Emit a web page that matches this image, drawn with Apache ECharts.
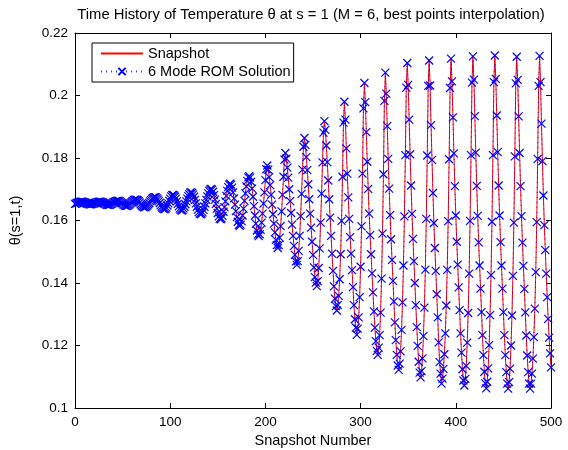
<!DOCTYPE html>
<html>
<head>
<meta charset="utf-8">
<script src="https://cdn.jsdelivr.net/npm/echarts@6/dist/echarts.min.js"></script>
<style>html,body{margin:0;padding:0;background:#fff}#chart{width:568px;height:450px}</style>
</head>
<body>
<div id="chart"></div>
<script>
const titleText = 'Time History of Temperature θ at s = 1 (M = 6, best points interpolation)';
const xAxisName = 'Snapshot Number';
const yAxisName = 'θ(s=1,t)';
const seriesNames = ['Snapshot', '6 Mode ROM Solution'];
const xTickValues = [0, 100, 200, 300, 400, 500];
const yTickValues = [0.1, 0.12, 0.14, 0.16, 0.18, 0.2, 0.22];

// theta(s=1,t) at snapshot numbers 0..500
const snapshotTheta = [
0.1653,0.1654,0.1656,0.1657,0.1658,0.1659,0.1660,0.1660,0.1660,0.1659,
0.1658,0.1657,0.1655,0.1654,0.1653,0.1652,0.1652,0.1652,0.1653,0.1654,
0.1655,0.1656,0.1657,0.1658,0.1659,0.1660,0.1660,0.1660,0.1659,0.1658,
0.1656,0.1654,0.1653,0.1651,0.1650,0.1650,0.1650,0.1651,0.1653,0.1654,
0.1657,0.1659,0.1660,0.1662,0.1663,0.1663,0.1663,0.1661,0.1659,0.1656,
0.1654,0.1651,0.1649,0.1647,0.1647,0.1647,0.1649,0.1651,0.1654,0.1657,
0.1660,0.1663,0.1665,0.1667,0.1667,0.1666,0.1664,0.1661,0.1657,0.1652,
0.1648,0.1645,0.1643,0.1642,0.1643,0.1645,0.1648,0.1652,0.1656,0.1661,
0.1665,0.1669,0.1672,0.1674,0.1675,0.1674,0.1671,0.1667,0.1662,0.1656,
0.1649,0.1644,0.1640,0.1637,0.1636,0.1637,0.1641,0.1648,0.1655,0.1663,
0.1670,0.1677,0.1681,0.1682,0.1680,0.1676,0.1670,0.1661,0.1653,0.1645,
0.1638,0.1634,0.1632,0.1633,0.1638,0.1644,0.1652,0.1661,0.1670,0.1678,
0.1684,0.1689,0.1690,0.1688,0.1683,0.1676,0.1666,0.1655,0.1644,0.1634,
0.1627,0.1622,0.1620,0.1622,0.1626,0.1634,0.1644,0.1655,0.1666,0.1677,
0.1687,0.1695,0.1699,0.1701,0.1699,0.1692,0.1681,0.1667,0.1653,0.1638,
0.1624,0.1613,0.1606,0.1604,0.1607,0.1615,0.1628,0.1643,0.1661,0.1679,
0.1695,0.1707,0.1715,0.1718,0.1715,0.1705,0.1690,0.1671,0.1651,0.1630,
0.1611,0.1596,0.1586,0.1583,0.1587,0.1598,0.1616,0.1638,0.1663,0.1687,
0.1709,0.1727,0.1738,0.1742,0.1737,0.1724,0.1702,0.1676,0.1646,0.1616,
0.1590,0.1568,0.1555,0.1550,0.1556,0.1570,0.1593,0.1622,0.1654,0.1690,
0.1729,0.1764,0.1776,0.1763,0.1739,0.1713,0.1682,0.1651,0.1620,0.1590,
0.1562,0.1538,0.1521,0.1512,0.1521,0.1545,0.1582,0.1629,0.1682,0.1740,
0.1795,0.1816,0.1798,0.1769,0.1737,0.1700,0.1662,0.1624,0.1587,0.1551,
0.1519,0.1490,0.1469,0.1458,0.1470,0.1503,0.1551,0.1614,0.1685,0.1763,
0.1836,0.1864,0.1842,0.1803,0.1761,0.1716,0.1668,0.1622,0.1577,0.1532,
0.1490,0.1450,0.1419,0.1401,0.1390,0.1406,0.1448,0.1511,0.1593,0.1686,
0.1786,0.1881,0.1918,0.1890,0.1840,0.1787,0.1728,0.1668,0.1609,0.1551,
0.1494,0.1439,0.1389,0.1350,0.1326,0.1312,0.1329,0.1359,0.1412,0.1492,
0.1599,0.1740,0.1913,0.1980,0.1923,0.1831,0.1750,0.1674,0.1605,0.1547,
0.1494,0.1441,0.1387,0.1329,0.1284,0.1257,0.1234,0.1254,0.1290,0.1355,
0.1452,0.1581,0.1750,0.1959,0.2040,0.1979,0.1883,0.1788,0.1701,0.1622,
0.1553,0.1492,0.1431,0.1370,0.1309,0.1257,0.1214,0.1183,0.1170,0.1193,
0.1233,0.1305,0.1414,0.1558,0.1748,0.1983,0.2073,0.2006,0.1902,0.1797,
0.1702,0.1617,0.1540,0.1474,0.1407,0.1341,0.1274,0.1217,0.1170,0.1136,
0.1122,0.1142,0.1181,0.1250,0.1338,0.1456,0.1613,0.1809,0.2025,0.2104,
0.2034,0.1923,0.1812,0.1712,0.1621,0.1541,0.1470,0.1400,0.1329,0.1259,
0.1199,0.1148,0.1113,0.1098,0.1118,0.1159,0.1230,0.1321,0.1443,0.1605,
0.1808,0.2031,0.2112,0.2032,0.1905,0.1794,0.1688,0.1592,0.1512,0.1439,
0.1364,0.1290,0.1210,0.1147,0.1110,0.1078,0.1094,0.1125,0.1172,0.1239,
0.1328,0.1442,0.1598,0.1796,0.2024,0.2118,0.2045,0.1930,0.1815,0.1710,
0.1616,0.1532,0.1459,0.1386,0.1313,0.1239,0.1177,0.1124,0.1088,0.1072,
0.1093,0.1135,0.1209,0.1304,0.1430,0.1599,0.1809,0.2041,0.2125,0.2051,
0.1934,0.1817,0.1711,0.1615,0.1530,0.1456,0.1382,0.1307,0.1233,0.1169,
0.1116,0.1079,0.1063,0.1084,0.1127,0.1201,0.1297,0.1425,0.1596,0.1809,
0.2043,0.2128,0.2053,0.1936,0.1819,0.1712,0.1616,0.1531,0.1456,0.1382,
0.1307,0.1233,0.1169,0.1115,0.1078,0.1062,0.1083,0.1126,0.1200,0.1296,
0.1423,0.1593,0.1805,0.2039,0.2124,0.2050,0.1933,0.1816,0.1710,0.1614,
0.1529,0.1455,0.1381,0.1306,0.1232,0.1168,0.1115,0.1078,0.1062,0.1078,
0.1110,0.1158,0.1227,0.1318,0.1435,0.1595,0.1797,0.2031,0.2127,0.2043,
0.1910,0.1790,0.1680,0.1585,0.1505,0.1430,0.1355,0.1285,0.1225,0.1175,
0.1130
];
// the 6-mode ROM solution overlays the snapshot curve at picture resolution
const romTheta = snapshotTheta;

const FONT = '"Liberation Sans", Arial, Helvetica, sans-serif';
const xMin = xTickValues[0], xMax = xTickValues[xTickValues.length - 1];
const xStep = xTickValues[1] - xTickValues[0];
const yMin = yTickValues[0], yMax = yTickValues[yTickValues.length - 1];
const yStep = 0.02;

const toPairs = arr => arr.map((v, i) => [i, v]);

function xAx(pos, showLabels) {
  return {
    type: 'value', position: pos, min: xMin, max: xMax, interval: xStep,
    axisLine: { show: true, onZero: false, lineStyle: { color: '#000', width: 1 } },
    axisTick: { show: true, inside: true, length: 5, lineStyle: { color: '#000', width: 1 } },
    axisLabel: { show: showLabels, color: '#000', fontSize: 13.5, fontFamily: FONT, margin: 7 },
    splitLine: { show: false },
    name: showLabels ? xAxisName : '',
    nameLocation: 'middle', nameGap: 23,
    nameTextStyle: { color: '#000', fontSize: 14.5, fontFamily: FONT }
  };
}
function yAx(pos, showLabels) {
  return {
    type: 'value', position: pos, min: yMin, max: yMax, interval: yStep,
    axisLine: { show: true, onZero: false, lineStyle: { color: '#000', width: 1 } },
    axisTick: { show: true, inside: true, length: 5, lineStyle: { color: '#000', width: 1 } },
    axisLabel: { show: showLabels, color: '#000', fontSize: 13.5, fontFamily: FONT, margin: 7,
      formatter: v => String(parseFloat(v.toFixed(2))) },
    splitLine: { show: false },
    name: showLabels ? yAxisName : '',
    nameLocation: 'middle', nameGap: 52, nameRotate: 90,
    nameTextStyle: { color: '#000', fontSize: 14.5, fontFamily: FONT }
  };
}

const chart = echarts.init(document.getElementById('chart'), null, { renderer: 'canvas' });
chart.setOption({
  animation: false,
  backgroundColor: '#fff',
  title: {
    text: titleText, left: 306, top: 2, textAlign: 'center',
    textStyle: { color: '#000', fontSize: 14.8, fontWeight: 'normal', fontFamily: FONT }
  },
  grid: { left: 75, right: 17, top: 33, bottom: 42, containLabel: false, outerBoundsMode: 'none' },
  legend: {
    orient: 'vertical', left: 92, top: 43, padding: [3, 3, 3, 8], itemGap: 3,
    itemWidth: 42, itemHeight: 9,
    borderColor: '#000', borderWidth: 1, backgroundColor: '#fff',
    textStyle: { color: '#000', fontSize: 14.5, fontFamily: FONT },
    data: seriesNames
  },
  xAxis: [xAx('bottom', true), xAx('top', false)],
  yAxis: [yAx('left', true), yAx('right', false)],
  series: [
    {
      name: seriesNames[0], type: 'line', xAxisIndex: 0, yAxisIndex: 0,
      data: toPairs(snapshotTheta), symbol: 'none', showSymbol: false,
      lineStyle: { color: '#ff0000', width: 1 },
      itemStyle: { color: 'rgba(255,0,0,0)', borderWidth: 0 },
      z: 2
    },
    {
      name: seriesNames[1], type: 'line', xAxisIndex: 0, yAxisIndex: 0,
      data: toPairs(romTheta),
      symbol: 'path://M0,0L10,10M10,0L0,10', symbolSize: 8, showAllSymbol: true,
      itemStyle: { color: '#0000ff', borderColor: '#0000ff', borderWidth: 1.2 },
      lineStyle: { color: '#0000ff', width: 1, type: [1, 4], opacity: 0.8 },
      z: 3
    }
  ]
});
</script>
</body>
</html>
